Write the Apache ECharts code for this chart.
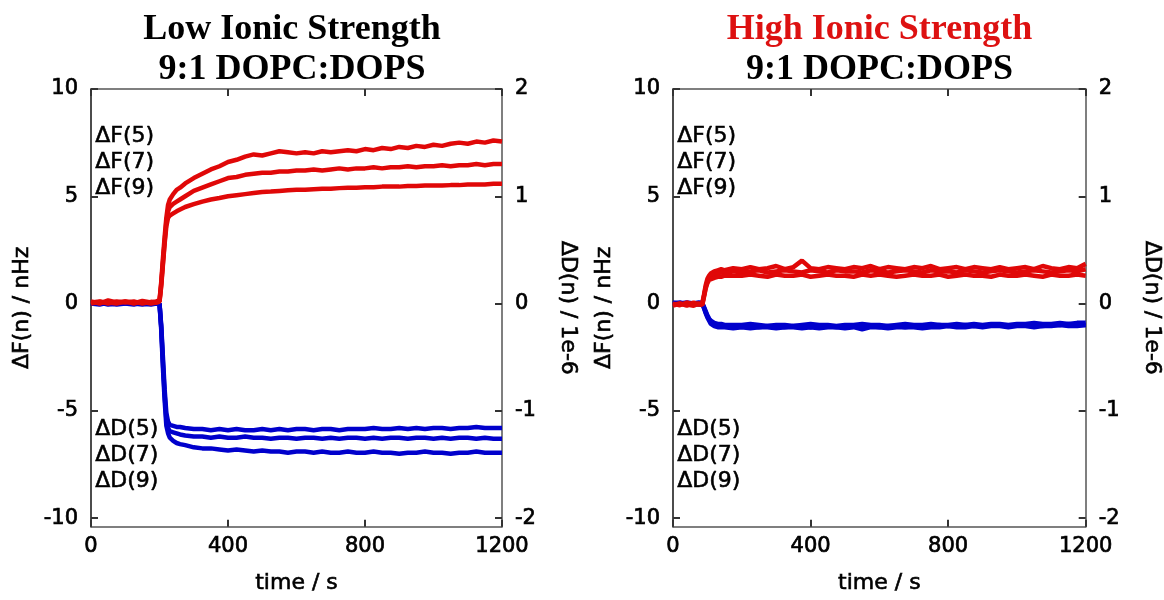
<!DOCTYPE html>
<html>
<head>
<meta charset="utf-8">
<script src="https://cdn.jsdelivr.net/npm/echarts@6/dist/echarts.min.js"></script>
<style>html,body{margin:0;padding:0;background:#fff;}#c{width:1164px;height:600px;}</style>
</head>
<body>
<div id="c"></div>
<script>
// ---- Data ----
const panelTitles = ['Low Ionic Strength', 'High Ionic Strength'];
const subTitle = '9:1 DOPC:DOPS';
const xTicks = [0, 400, 800, 1200];
const fTicks = [-10, -5, 0, 5, 10];
const dTicks = [-2, -1, 0, 1, 2];
const fLabels = ['\u0394F(5)', '\u0394F(7)', '\u0394F(9)'];
const dLabels = ['\u0394D(5)', '\u0394D(7)', '\u0394D(9)'];

// Low ionic strength: time (s)
const tLow = [0,25,50,75,100,125,150,175,190,200,205,210,215,220,225,230,240,250,260,275,
  300,325,350,375,400,425,450,475,500,525,550,575,600,625,650,675,700,725,750,775,800,825,850,875,900,925,950,975,1000,1025,1050,1075,1100,1125,1150,1175,1200];
// ΔF (Hz) low
const lowF5 = [0.1,0.0,0.15,0.05,0.1,0.0,0.12,0.05, 0.1,0.15,1.0,2.1,3.1,4.0,4.6,4.85,5.1,5.3,5.4,5.6,
  5.85,6.05,6.25,6.4,6.6,6.7,6.85,6.95,6.9,7.0,7.1,7.05,7.0,7.05,7.0,7.1,7.05,7.1,7.15,7.1,7.2,7.15,7.25,7.2,7.3,7.25,7.35,7.3,7.4,7.35,7.45,7.5,7.45,7.55,7.5,7.6,7.55];
const lowF7 = [0.05,0.1,0.0,0.1,0.05,0.1,0.0,0.08, 0.05,0.1,0.9,1.9,2.9,3.8,4.3,4.5,4.65,4.75,4.85,5.0,
  5.25,5.4,5.55,5.7,5.85,5.9,6.0,6.05,6.1,6.1,6.15,6.15,6.2,6.2,6.25,6.2,6.25,6.3,6.25,6.3,6.3,6.35,6.3,6.35,6.35,6.4,6.35,6.4,6.4,6.45,6.4,6.45,6.45,6.5,6.45,6.5,6.5];
const lowF9 = [0.0,0.08,0.05,0.0,0.1,0.05,0.08,0.0, 0.05,0.08,0.8,1.8,2.8,3.6,4.0,4.1,4.2,4.3,4.38,4.5,
  4.63,4.75,4.85,4.92,5.0,5.05,5.1,5.15,5.2,5.22,5.25,5.28,5.3,5.3,5.33,5.35,5.35,5.38,5.4,5.4,5.42,5.42,5.45,5.45,5.45,5.48,5.48,5.5,5.5,5.5,5.52,5.52,5.55,5.55,5.55,5.58,5.58];
// ΔD (1e-6) low
const lowD5 = [0.0,0.01,-0.01,0.0,0.01,0.0,-0.01,0.0, 0.0,0.0,-0.2,-0.5,-0.8,-1.02,-1.1,-1.13,-1.14,-1.15,-1.15,-1.16,
  -1.17,-1.17,-1.18,-1.17,-1.18,-1.17,-1.18,-1.18,-1.17,-1.18,-1.17,-1.18,-1.17,-1.17,-1.18,-1.17,-1.17,-1.18,-1.17,-1.17,-1.17,-1.16,-1.17,-1.17,-1.16,-1.17,-1.16,-1.17,-1.16,-1.16,-1.17,-1.16,-1.16,-1.15,-1.16,-1.16,-1.16];
const lowD7 = [0.01,0.0,0.0,-0.01,0.0,0.01,0.0,-0.01, 0.0,0.0,-0.22,-0.55,-0.85,-1.08,-1.16,-1.19,-1.2,-1.21,-1.22,-1.23,
  -1.24,-1.24,-1.25,-1.24,-1.25,-1.25,-1.24,-1.25,-1.25,-1.26,-1.25,-1.25,-1.26,-1.25,-1.25,-1.26,-1.25,-1.26,-1.25,-1.25,-1.26,-1.25,-1.26,-1.25,-1.25,-1.26,-1.25,-1.25,-1.26,-1.25,-1.26,-1.25,-1.25,-1.26,-1.25,-1.26,-1.26];
const lowD9 = [0.0,-0.01,0.01,0.0,0.0,-0.01,0.01,0.0, 0.0,0.0,-0.24,-0.6,-0.9,-1.14,-1.21,-1.25,-1.28,-1.3,-1.31,-1.32,
  -1.34,-1.35,-1.35,-1.36,-1.37,-1.36,-1.37,-1.38,-1.37,-1.38,-1.38,-1.39,-1.38,-1.38,-1.39,-1.38,-1.39,-1.39,-1.38,-1.39,-1.39,-1.38,-1.39,-1.39,-1.4,-1.39,-1.39,-1.38,-1.39,-1.39,-1.4,-1.39,-1.39,-1.38,-1.39,-1.39,-1.39];

// High ionic strength: time (s)
const tHigh = [0,20,40,60,75,85,90,95,100,105,110,120,130,140,150,175,
  200,225,250,275,300,325,350,375,400,425,450,475,500,525,550,575,600,625,650,675,700,725,750,775,800,825,850,875,900,925,950,975,1000,1025,1050,1075,1100,1125,1150,1175,1200];
const highF5 = [-0.05,0.0,-0.1,0.05,-0.05,0.0,0.4,0.85,1.15,1.3,1.4,1.5,1.55,1.6,1.55,1.65,
  1.6,1.7,1.6,1.65,1.75,1.6,1.7,2.0,1.65,1.6, 1.7,1.65,1.6,1.7,1.65,1.75,1.6,1.7,1.65,1.6, 1.7,1.65,1.75,1.6,1.65,1.7,1.6,1.7,1.65,1.6, 1.7,1.6,1.65,1.7,1.6,1.75,1.65,1.6,1.7,1.65, 1.85];
const highF7 = [0.0,-0.08,0.05,-0.05,0.0,-0.05,0.35,0.75,1.05,1.2,1.3,1.35,1.4,1.45,1.4,1.5,
  1.45,1.5,1.55,1.45,1.5,1.55,1.5,1.45,1.55,1.5, 1.45,1.55,1.5,1.5,1.45,1.55,1.5,1.45,1.5,1.55, 1.5,1.45,1.55,1.5,1.5,1.45,1.55,1.5,1.45,1.5, 1.55,1.5,1.45,1.5,1.55,1.5,1.45,1.5,1.55,1.5, 1.6];
const highF9 = [-0.1,0.0,-0.05,-0.1,0.0,-0.08,0.3,0.7,0.95,1.1,1.15,1.2,1.25,1.25,1.3,1.3,
  1.3,1.35,1.3,1.25,1.35,1.3,1.3,1.35,1.25,1.3, 1.35,1.3,1.3,1.25,1.35,1.3,1.35,1.3,1.25,1.3, 1.35,1.3,1.3,1.35,1.25,1.3,1.35,1.3,1.3,1.25, 1.35,1.3,1.3,1.35,1.3,1.25,1.35,1.3,1.3,1.35, 1.3];
const highD5 = [0.0,0.01,-0.01,0.0,0.01,0.0,-0.03,-0.07,-0.11,-0.14,-0.16,-0.18,-0.19,-0.19,-0.2,-0.2,
  -0.2,-0.19,-0.2,-0.21,-0.2,-0.2,-0.21,-0.2,-0.19,-0.2, -0.2,-0.21,-0.2,-0.2,-0.19,-0.2,-0.2,-0.21,-0.2,-0.19, -0.2,-0.2,-0.19,-0.2,-0.2,-0.19,-0.2,-0.19,-0.2,-0.19, -0.19,-0.2,-0.19,-0.19,-0.18,-0.19,-0.19,-0.18,-0.19,-0.18, -0.18];
const highD7 = [0.01,0.0,0.0,-0.01,0.0,0.01,-0.04,-0.08,-0.12,-0.15,-0.17,-0.19,-0.2,-0.21,-0.21,-0.21,
  -0.21,-0.21,-0.22,-0.21,-0.21,-0.22,-0.21,-0.21,-0.22,-0.21, -0.21,-0.22,-0.21,-0.21,-0.22,-0.21,-0.22,-0.21,-0.21,-0.22, -0.21,-0.21,-0.21,-0.2,-0.21,-0.21,-0.2,-0.21,-0.21,-0.2, -0.2,-0.21,-0.2,-0.2,-0.2,-0.21,-0.2,-0.2,-0.19,-0.2, -0.2];
const highD9 = [-0.01,0.0,0.01,0.0,-0.01,0.0,-0.04,-0.09,-0.13,-0.16,-0.19,-0.21,-0.22,-0.22,-0.22,-0.23,
  -0.22,-0.23,-0.22,-0.22,-0.23,-0.22,-0.22,-0.23,-0.22,-0.23, -0.22,-0.22,-0.23,-0.22,-0.24,-0.22,-0.22,-0.23,-0.22,-0.22, -0.22,-0.23,-0.22,-0.22,-0.21,-0.22,-0.22,-0.21,-0.22,-0.21, -0.21,-0.22,-0.21,-0.21,-0.22,-0.21,-0.21,-0.2,-0.21,-0.21, -0.2];

// ---- Chart ----
const RED = '#e00808', BLUE = '#0000cc', TITLE_RED = '#dd1111';
const FONT = 'DejaVu Sans';
const TXT = '#000';
const chart = echarts.init(document.getElementById('c'));

const grids = [
  {left: 91, top: 89, width: 411, height: 442},
  {left: 673, top: 89, width: 413, height: 442}
];
const centers = [292, 879.5];

function pairs(t, v) { return t.map((x, i) => [x, v[i]]); }

const labelStyle = {fontFamily: FONT, fontSize: 21, color: TXT, textBorderColor: TXT, textBorderWidth: 0.7};
const nameStyle = {fontFamily: FONT, fontSize: 22, color: TXT, textBorderColor: TXT, textBorderWidth: 0.6};

const xAxes = [], yAxes = [], series = [], titles = [], graphics = [];
const axisGray = '#555';
const TICK_STYLE = {color: '#333', width: 2};
grids.forEach((g, gi) => {
  xAxes.push({
    type: 'value', gridIndex: gi, position: 'bottom', min: 0, max: 1200, interval: 400,
    name: 'time / s', nameLocation: 'middle', nameGap: 46, nameTextStyle: nameStyle,
    axisLine: {show: true, onZero: false, lineStyle: {color: axisGray, width: 1.5}},
    axisTick: {show: true, inside: true, length: 7, customValues: xTicks, lineStyle: TICK_STYLE},
    axisLabel: Object.assign({margin: 9, customValues: xTicks, formatter: v => String(v)}, labelStyle),
    splitLine: {show: false}
  });
  xAxes.push({
    type: 'value', gridIndex: gi, position: 'top', min: 0, max: 1200, interval: 400,
    axisLine: {show: true, onZero: false, lineStyle: {color: axisGray, width: 1.5}},
    axisTick: {show: true, inside: true, length: 7, customValues: xTicks, lineStyle: TICK_STYLE},
    axisLabel: {show: false}, splitLine: {show: false}
  });
  yAxes.push({
    type: 'value', gridIndex: gi, position: 'left', min: -10.4, max: 10,
    name: '\u0394F(n) / nHz', nameLocation: 'middle', nameGap: 58, nameTextStyle: nameStyle,
    axisLine: {show: true, onZero: false, lineStyle: {color: '#111', width: 1.5}},
    axisTick: {show: true, inside: true, length: 7, customValues: fTicks, lineStyle: TICK_STYLE},
    axisLabel: Object.assign({margin: 13, customValues: fTicks}, labelStyle),
    splitLine: {show: false}
  });
  yAxes.push({
    type: 'value', gridIndex: gi, position: 'right', min: -2.08, max: 2,
    name: '\u0394D(n) / 1e-6', nameLocation: 'middle', nameGap: 55, nameRotate: -90, nameTextStyle: nameStyle,
    axisLine: {show: true, onZero: false, lineStyle: {color: axisGray, width: 1.5}},
    axisTick: {show: true, inside: true, length: 7, customValues: dTicks, lineStyle: TICK_STYLE},
    axisLabel: Object.assign({margin: 13, customValues: dTicks}, labelStyle),
    splitLine: {show: false}
  });
  titles.push({
    text: panelTitles[gi], left: centers[gi], top: 12, textAlign: 'center', padding: 0,
    textStyle: {fontFamily: 'Liberation Serif', fontWeight: 'bold', fontSize: 36, color: gi === 0 ? '#000' : TITLE_RED}
  });
  titles.push({
    text: subTitle, left: centers[gi], top: 52, textAlign: 'center', padding: 0,
    textStyle: {fontFamily: 'Liberation Serif', fontWeight: 'bold', fontSize: 36, color: '#000'}
  });
  const lx = g.left + 4;
  const ts = {font: '22px "' + FONT + '"', fill: TXT, stroke: TXT, lineWidth: 0.6};
  fLabels.forEach((s, i) => graphics.push({type: 'text', left: lx, top: 125 + i * 26, z: 10, style: Object.assign({text: s}, ts)}));
  dLabels.forEach((s, i) => graphics.push({type: 'text', left: lx, top: 418 + i * 26, z: 10, style: Object.assign({text: s}, ts)}));
});

const panels = [
  {t: tLow, F: [lowF5, lowF7, lowF9], D: [lowD5, lowD7, lowD9]},
  {t: tHigh, F: [highF5, highF7, highF9], D: [highD5, highD7, highD9]}
];
panels.forEach((p, gi) => {
  p.D.forEach((d, i) => series.push({
    name: dLabels[i], type: 'line', xAxisIndex: gi * 2, yAxisIndex: gi * 2 + 1,
    data: pairs(p.t, d), showSymbol: false, symbol: 'none',
    lineStyle: {color: BLUE, width: 4.5}
  }));
  p.F.forEach((f, i) => series.push({
    name: fLabels[i], type: 'line', xAxisIndex: gi * 2, yAxisIndex: gi * 2,
    data: pairs(p.t, f), showSymbol: false, symbol: 'none',
    lineStyle: {color: RED, width: 4.5}
  }));
});

chart.setOption({
  animation: false,
  title: titles,
  grid: grids,
  xAxis: xAxes,
  yAxis: yAxes,
  series: series,
  graphic: graphics
});
</script>
</body>
</html>
